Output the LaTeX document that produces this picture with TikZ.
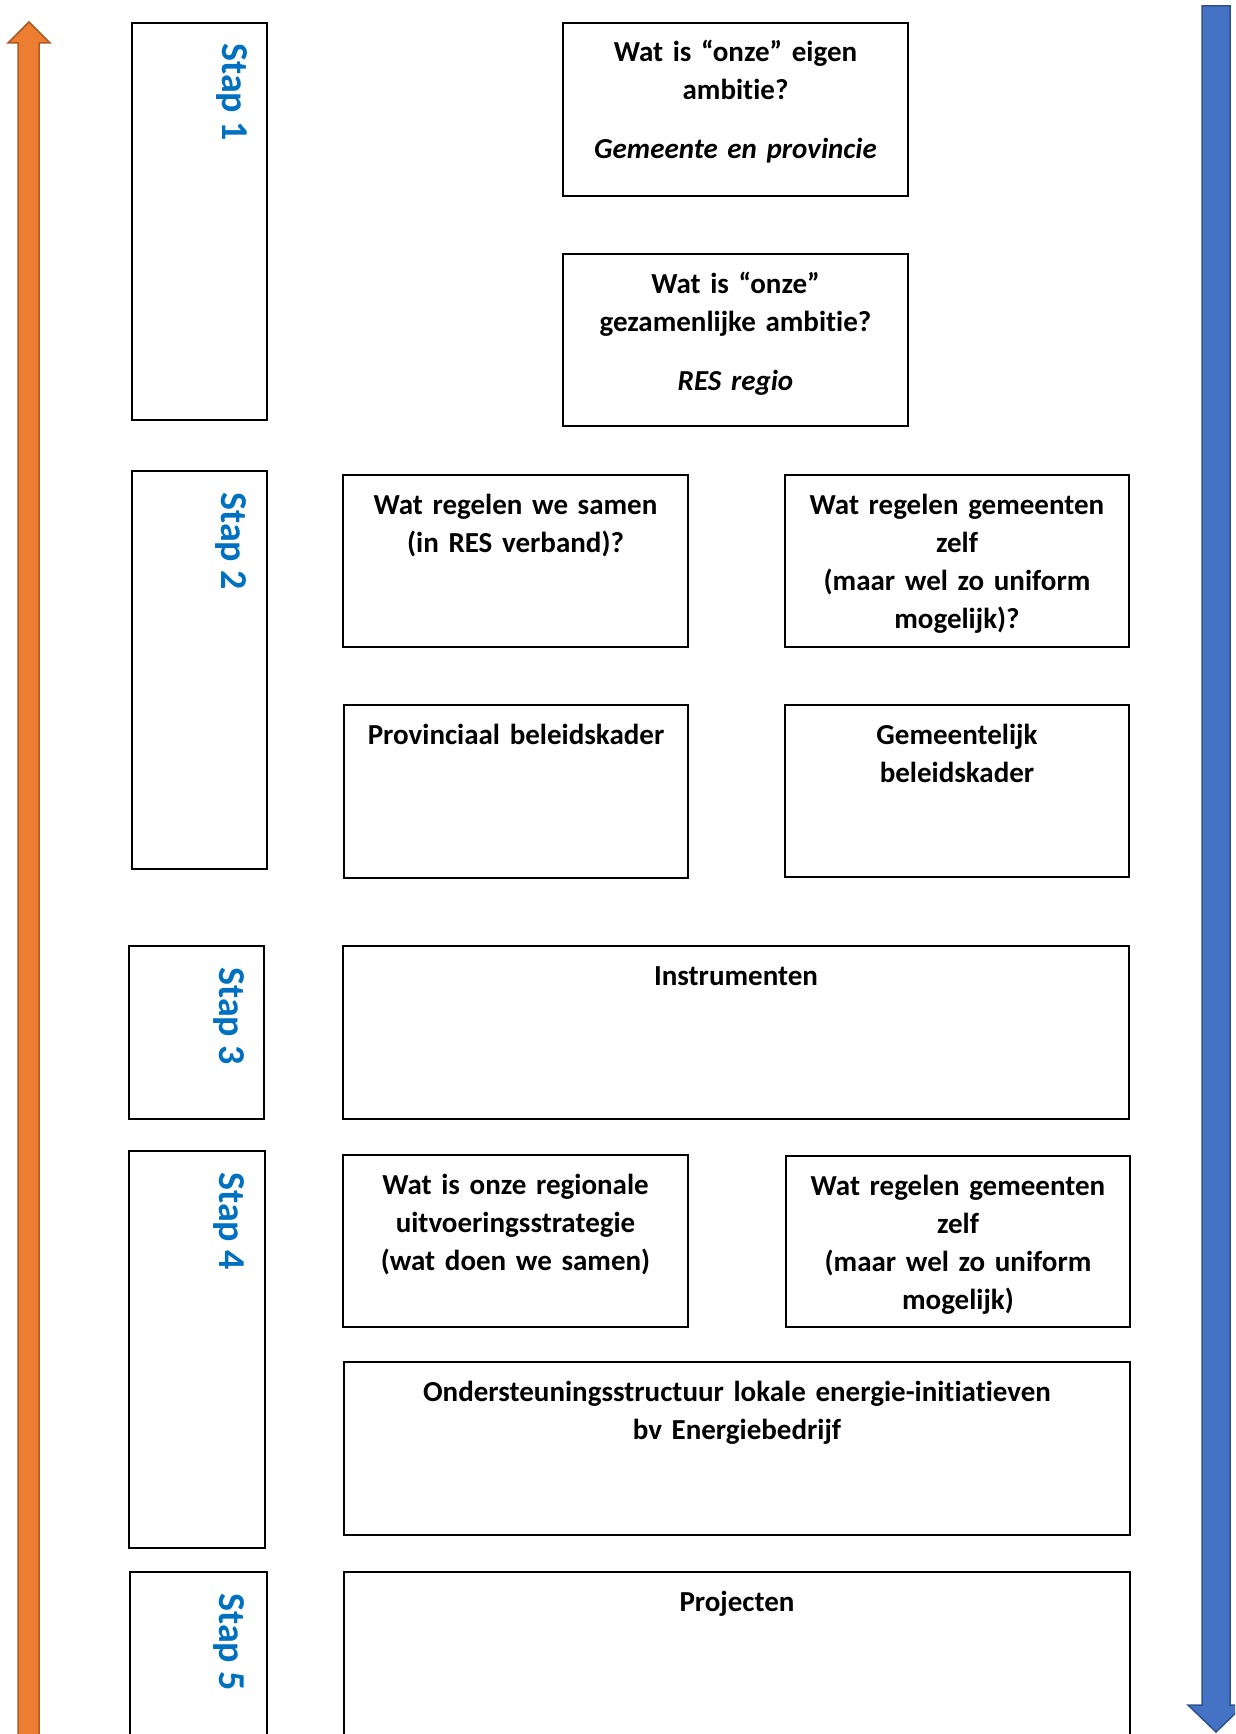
\documentclass[tikz,border=0pt]{standalone}
\usepackage{fontspec}
\setmainfont{Carlito}[RawFeature={-liga;-clig;-dlig;-calt}]
\usetikzlibrary{fit}
\definecolor{stapblue}{RGB}{0,112,192}
\definecolor{orfill}{RGB}{237,125,49}
\definecolor{ordraw}{RGB}{174,90,33}
\definecolor{blfill}{RGB}{68,114,196}
\definecolor{bldraw}{RGB}{47,82,143}
\tikzset{
  box/.style={draw=black, line width=1.5pt, inner sep=0pt, fill=white},
  txt/.style={anchor=base, inner sep=0pt, text width=330pt, align=center,
    font=\fontsize{29pt}{38pt}\selectfont\bfseries},
  staplabel/.style={anchor=base west, inner sep=0pt, rotate=-90, text=stapblue,
    font=\fontsize{38pt}{44pt}\selectfont\bfseries},
}
\begin{document}
\begin{tikzpicture}[x=1pt,y=-1pt]
\useasboundingbox (0,0) rectangle (1235,1734);
\clip (0,0) rectangle (1235,1734);
% arrows
\filldraw[fill=orfill, draw=ordraw, line width=1.5pt]
  (18,1760) -- (18,43) -- (8,43) -- (29,22) -- (50,43) -- (39,43) -- (39,1760) -- cycle;
\filldraw[fill=blfill, draw=bldraw, line width=1.5pt]
  (1202,6) -- (1230,6) -- (1230,1705) -- (1244,1705) -- (1216,1732) -- (1188,1705) -- (1202,1705) -- cycle;
% stap boxes
\coordinate (s1a) at (132,23);   \coordinate (s1b) at (267,420);
\coordinate (s2a) at (132,471);  \coordinate (s2b) at (267,869);
\coordinate (s3a) at (129,946);  \coordinate (s3b) at (264,1119);
\coordinate (s4a) at (129,1151); \coordinate (s4b) at (265,1548);
\coordinate (s5a) at (130,1572); \coordinate (s5b) at (267,1760);
\node[box, fit=(s1a)(s1b)] (S1) {};
\node[box, fit=(s2a)(s2b)] (S2) {};
\node[box, fit=(s3a)(s3b)] (S3) {};
\node[box, fit=(s4a)(s4b)] (S4) {};
\node[box, fit=(s5a)(s5b)] (S5) {};
\node[staplabel] (L1) at (222,43) {Stap 1};
\node[staplabel] (L2) at (221,492) {Stap 2};
\node[staplabel] (L3) at (219,967) {Stap 3};
\node[staplabel] (L4) at (219,1172) {Stap 4};
\node[staplabel] (L5) at (219,1593) {Stap 5};
% content boxes
\coordinate (aa) at (563,23);   \coordinate (ab) at (908,196);
\coordinate (ba) at (563,254);  \coordinate (bb) at (908,426);
\coordinate (ca) at (343,475);  \coordinate (cb) at (688,647);
\coordinate (da) at (785,475);  \coordinate (db) at (1129,647);
\coordinate (ea) at (344,705);  \coordinate (eb) at (688,878);
\coordinate (fa) at (785,705);  \coordinate (fb) at (1129,877);
\coordinate (ga) at (343,946);  \coordinate (gb) at (1129,1119);
\coordinate (ha) at (343,1155); \coordinate (hb) at (688,1327);
\coordinate (ia) at (786,1156); \coordinate (ib) at (1130,1327);
\coordinate (ja) at (344,1362); \coordinate (jb) at (1130,1535);
\coordinate (ka) at (344,1572); \coordinate (kb) at (1130,1760);
\node[box, fit=(aa)(ab)] (A) {};
\node[box, fit=(ba)(bb)] (B) {};
\node[box, fit=(ca)(cb)] (C) {};
\node[box, fit=(da)(db)] (D) {};
\node[box, fit=(ea)(eb)] (E) {};
\node[box, fit=(fa)(fb)] (F) {};
\node[box, fit=(ga)(gb)] (G) {};
\node[box, fit=(ha)(hb)] (H) {};
\node[box, fit=(ia)(ib)] (I) {};
\node[box, fit=(ja)(jb)] (J) {};
\node[box, fit=(ka)(kb)] (K) {};
% texts
\node[txt] (tA) at (735.5,62) {Wat is “onze” eigen\\ambitie?\\[21pt]\textit{Gemeente en provincie}};
\node[txt] (tB) at (735.5,293) {Wat is “onze”\\gezamenlijke ambitie?\\[21pt]\textit{RES regio}};
\node[txt] (tC) at (515.5,514) {Wat regelen we samen\\(in RES verband)?};
\node[txt] (tD) at (957,514) {Wat regelen gemeenten\\zelf\\(maar wel zo uniform\\mogelijk)?};
\node[txt] (tE) at (516,744) {Provinciaal beleidskader};
\node[txt] (tF) at (957,744) {Gemeentelijk\\beleidskader};
\node[txt] (tG) at (736,985) {Instrumenten};
\node[txt] (tH) at (515.5,1194) {Wat is onze regionale\\uitvoeringsstrategie\\(wat doen we samen)};
\node[txt] (tI) at (958,1195) {Wat regelen gemeenten\\zelf\\(maar wel zo uniform\\mogelijk)};
\node[txt, text width=760pt] (tJ) at (737,1401) {Ondersteuningsstructuur lokale energie-initiatieven\\bv Energiebedrijf};
\node[txt] (tK) at (737,1611) {Projecten};
\end{tikzpicture}
\end{document}
